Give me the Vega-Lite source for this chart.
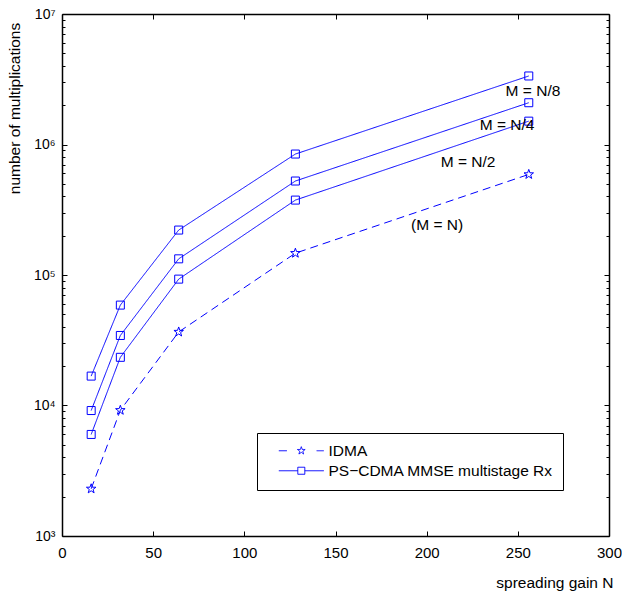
{
  "$schema": "https://vega.github.io/schema/vega-lite/v6.json",
  "width": 547,
  "height": 522,
  "autosize": {"type": "none"},
  "padding": {"left": 62, "top": 14, "right": 13, "bottom": 58},
  "background": "white",
  "config": {
    "view": {"stroke": null},
    "font": "Liberation Sans",
    "axis": {
      "grid": false,
      "domainColor": "black",
      "domainWidth": 1.5,
      "tickColor": "black",
      "tickWidth": 1,
      "labelFont": "Liberation Sans",
      "labelFontSize": 15,
      "labelColor": "black",
      "titleFont": "Liberation Sans",
      "titleFontSize": 15.5,
      "titleFontWeight": "normal",
      "titleColor": "black",
      "labelFlush": false,
      "labelOverlap": false
    },
    "legend": {"strokeWidth": 1}
  },
  "datasets": {
    "curves": [
      {"N": 16, "value": 2300, "method": "IDMA", "series": "IDMA"},
      {"N": 32, "value": 9200, "method": "IDMA", "series": "IDMA"},
      {"N": 64, "value": 36600, "method": "IDMA", "series": "IDMA"},
      {"N": 128, "value": 147000, "method": "IDMA", "series": "IDMA"},
      {"N": 256, "value": 590000, "method": "IDMA", "series": "IDMA"},
      {"N": 16, "value": 6000, "method": "PS−CDMA MMSE multistage Rx", "series": "M = N/2"},
      {"N": 32, "value": 23400, "method": "PS−CDMA MMSE multistage Rx", "series": "M = N/2"},
      {"N": 64, "value": 93000, "method": "PS−CDMA MMSE multistage Rx", "series": "M = N/2"},
      {"N": 128, "value": 375000, "method": "PS−CDMA MMSE multistage Rx", "series": "M = N/2"},
      {"N": 256, "value": 1510000, "method": "PS−CDMA MMSE multistage Rx", "series": "M = N/2"},
      {"N": 16, "value": 9150, "method": "PS−CDMA MMSE multistage Rx", "series": "M = N/4"},
      {"N": 32, "value": 34400, "method": "PS−CDMA MMSE multistage Rx", "series": "M = N/4"},
      {"N": 64, "value": 133000, "method": "PS−CDMA MMSE multistage Rx", "series": "M = N/4"},
      {"N": 128, "value": 525000, "method": "PS−CDMA MMSE multistage Rx", "series": "M = N/4"},
      {"N": 256, "value": 2090000, "method": "PS−CDMA MMSE multistage Rx", "series": "M = N/4"},
      {"N": 16, "value": 16800, "method": "PS−CDMA MMSE multistage Rx", "series": "M = N/8"},
      {"N": 32, "value": 58800, "method": "PS−CDMA MMSE multistage Rx", "series": "M = N/8"},
      {"N": 64, "value": 221000, "method": "PS−CDMA MMSE multistage Rx", "series": "M = N/8"},
      {"N": 128, "value": 845000, "method": "PS−CDMA MMSE multistage Rx", "series": "M = N/8"},
      {"N": 256, "value": 3350000, "method": "PS−CDMA MMSE multistage Rx", "series": "M = N/8"}
    ],
    "notes": [
      {"N": 258.3, "value": 2570000, "label": "M = N/8"},
      {"N": 244.1, "value": 1410000, "label": "M = N/4"},
      {"N": 222.7, "value": 734000, "label": "M = N/2"},
      {"N": 205.7, "value": 242000, "label": "(M = N)"}
    ]
  },
  "layer": [
    {
      "data": {"name": "curves"},
      "mark": {"type": "line", "stroke": "#0000ff", "strokeWidth": 1},
      "encoding": {
        "x": {
          "field": "N",
          "type": "quantitative",
          "scale": {"domain": [0, 300], "nice": false},
          "axis": {
            "orient": "bottom",
            "values": [0, 50, 100, 150, 200, 250, 300],
            "tickSize": -5,
            "labelPadding": 14,
            "title": "spreading gain N",
            "titleAnchor": "end",
            "titleAlign": "right",
            "titleX": 551,
            "titleY": 51,
            "titleBaseline": "alphabetic"
          }
        },
        "y": {
          "field": "value",
          "type": "quantitative",
          "scale": {"type": "log", "domain": [1000, 10000000], "nice": false},
          "axis": {
            "orient": "left",
            "values": [1000, 2000, 3000, 4000, 5000, 6000, 7000, 8000, 9000, 10000, 20000, 30000, 40000, 50000, 60000, 70000, 80000, 90000, 100000, 200000, 300000, 400000, 500000, 600000, 700000, 800000, 900000, 1000000, 2000000, 3000000, 4000000, 5000000, 6000000, 7000000, 8000000, 9000000, 10000000],
            "tickSize": {"condition": {"test": "abs(log(datum.value)/LN10 - round(log(datum.value)/LN10)) < 0.001", "value": -5}, "value": -3},
            "labelPadding": 12,
            "labelFontSize": 14,
            "labelExpr": "abs(log(datum.value)/LN10 - round(log(datum.value)/LN10)) < 0.001 ? '10' + ['⁰','¹','²','³','⁴','⁵','⁶','⁷'][round(log(datum.value)/LN10)] : ''",
            "title": "number of multiplications",
            "titleAngle": -90,
            "titleX": -48,
            "titleY": 94,
            "titleAlign": "center",
            "titleBaseline": "middle"
          }
        },
        "strokeDash": {
          "condition": {"test": "datum.method === 'IDMA'", "value": [8, 5]},
          "value": [1, 0]
        },
        "detail": {"field": "series"}
      }
    },
    {
      "data": {"name": "curves"},
      "mark": {"type": "point", "filled": false, "stroke": "#0000ff", "strokeWidth": 1, "size": 100, "opacity": 1},
      "encoding": {
        "x": {
          "field": "N",
          "type": "quantitative",
          "axis": {"orient": "top", "values": [0, 50, 100, 150, 200, 250, 300], "tickSize": -5, "labels": false, "title": null}
        },
        "y": {
          "field": "value",
          "type": "quantitative",
          "axis": {
            "orient": "right",
            "values": [1000, 2000, 3000, 4000, 5000, 6000, 7000, 8000, 9000, 10000, 20000, 30000, 40000, 50000, 60000, 70000, 80000, 90000, 100000, 200000, 300000, 400000, 500000, 600000, 700000, 800000, 900000, 1000000, 2000000, 3000000, 4000000, 5000000, 6000000, 7000000, 8000000, 9000000, 10000000],
            "tickSize": {"condition": {"test": "abs(log(datum.value)/LN10 - round(log(datum.value)/LN10)) < 0.001", "value": -5}, "value": -3},
            "labels": false,
            "title": null
          }
        },
        "shape": {
          "condition": {
            "test": "datum.method === 'IDMA'",
            "value": "M0,-1L0.235,-0.324L0.951,-0.309L0.38,0.124L0.588,0.809L0,0.4L-0.588,0.809L-0.38,0.124L-0.951,-0.309L-0.235,-0.324Z"
          },
          "value": "M-0.8,-0.8H0.8V0.8H-0.8Z"
        }
      }
    },
    {
      "description": "Legend carrier: transparent points whose shape scale holds the line-plus-marker legend glyphs.",
      "data": {"name": "curves"},
      "mark": {"type": "point", "filled": false, "stroke": "#0000ff", "strokeWidth": 1, "opacity": 0},
      "encoding": {
        "x": {"field": "N", "type": "quantitative", "axis": null},
        "y": {"field": "value", "type": "quantitative", "axis": null},
        "shape": {
          "field": "method",
          "type": "nominal",
          "scale": {
            "domain": ["IDMA", "PS−CDMA MMSE multistage Rx"],
            "range": [
              "M0.9,0H2.7M9.3,0H10.9M5.9,-0.9L6.112,-0.291L6.756,-0.278L6.242,0.111L6.429,0.728L5.9,0.36L5.371,0.728L5.558,0.111L5.044,-0.278L5.688,-0.291Z",
              "M0.9,0H5.12M6.68,0H10.9M5.12,-0.78H6.68V0.78H5.12Z"
            ]
          },
          "legend": {
            "orient": "none",
            "legendX": 195,
            "legendY": 419,
            "title": null,
            "fillColor": "white",
            "strokeColor": "black",
            "padding": 10,
            "labelFont": "Liberation Sans",
            "labelFontSize": 15.5,
            "labelColor": "black",
            "labelLimit": 400,
            "labelOffset": 46,
            "rowPadding": 3,
            "symbolSize": 81,
            "symbolOpacity": 1,
            "symbolStrokeColor": "#0000ff",
            "symbolFillColor": "transparent",
            "symbolStrokeWidth": 1,
            "symbolDash": [1, 0]
          }
        }
      }
    },
    {
      "data": {"name": "notes"},
      "mark": {"type": "text", "font": "Liberation Sans", "fontSize": 15.5, "color": "black", "align": "center", "baseline": "middle"},
      "encoding": {
        "x": {"field": "N", "type": "quantitative", "axis": null},
        "y": {"field": "value", "type": "quantitative", "axis": null},
        "text": {"field": "label"}
      }
    }
  ],
  "resolve": {"axis": {"x": "independent", "y": "independent"}}
}
